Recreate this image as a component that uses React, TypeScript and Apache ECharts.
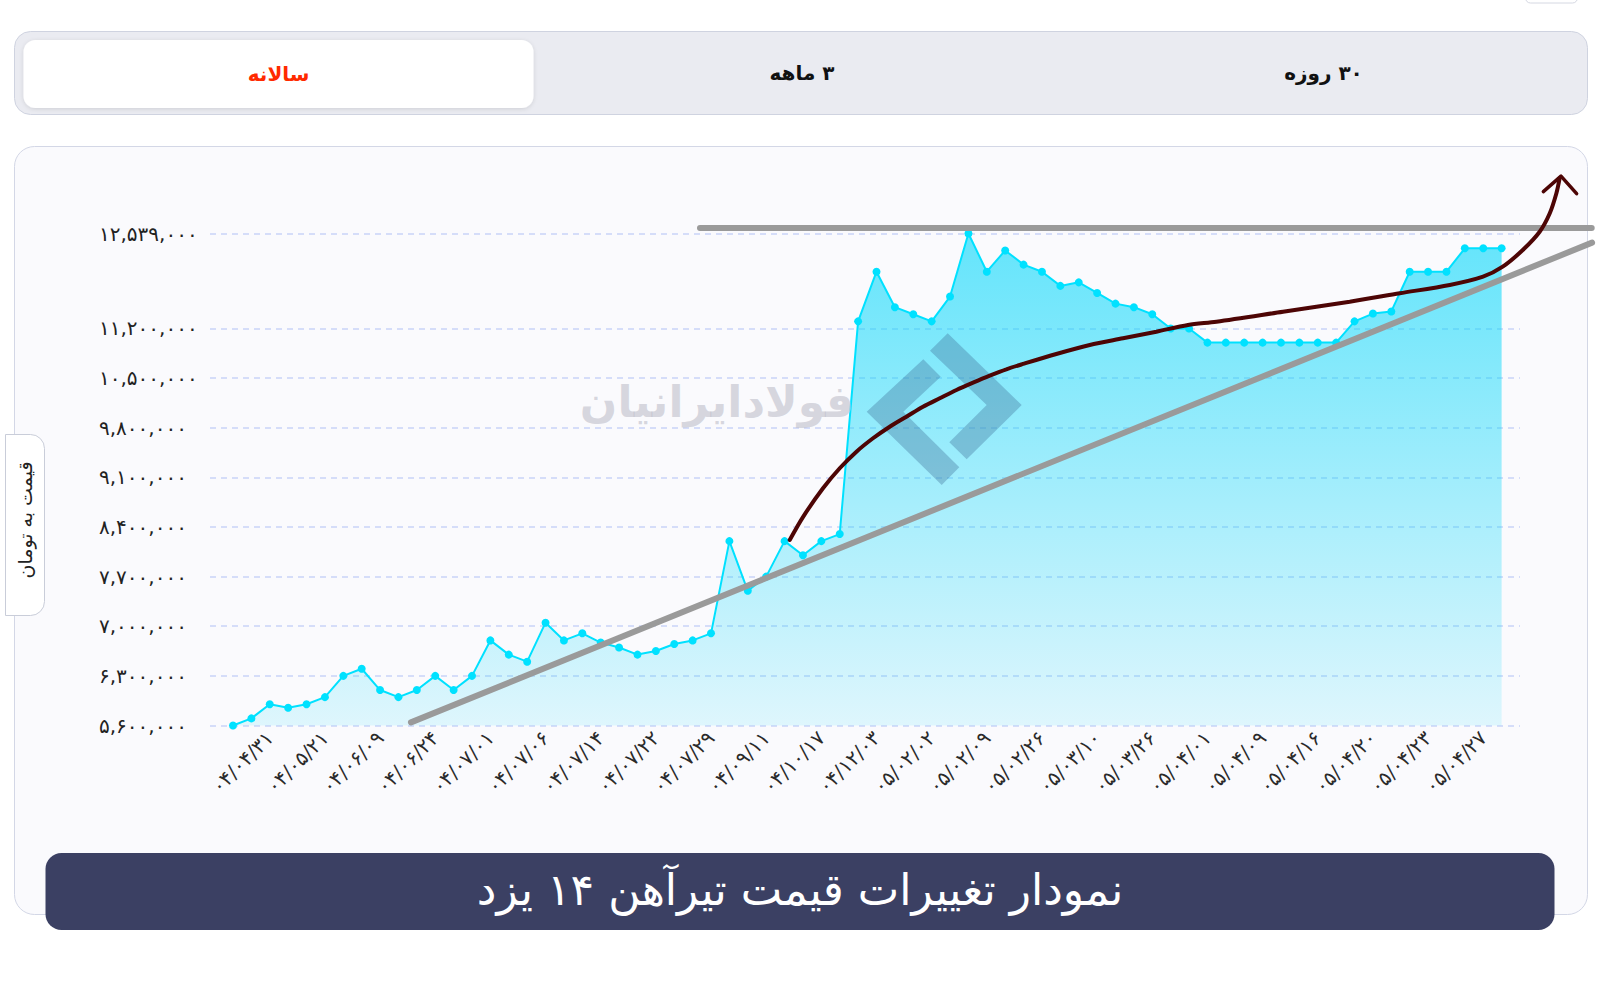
import React, { useEffect, useRef } from "react";
import * as echarts from "echarts";

// ---- data ----
const dateLabels = [
  "۰۴/۰۴/۳۱", "۰۴/۰۵/۲۱", "۰۴/۰۶/۰۹", "۰۴/۰۶/۲۴", "۰۴/۰۷/۰۱", "۰۴/۰۷/۰۶",
  "۰۴/۰۷/۱۴", "۰۴/۰۷/۲۲", "۰۴/۰۷/۲۹", "۰۴/۰۹/۱۱", "۰۴/۱۰/۱۷", "۰۴/۱۲/۰۳",
  "۰۵/۰۲/۰۲", "۰۵/۰۲/۰۹", "۰۵/۰۲/۲۶", "۰۵/۰۳/۱۰", "۰۵/۰۳/۲۶", "۰۵/۰۴/۰۱",
  "۰۵/۰۴/۰۹", "۰۵/۰۴/۱۶", "۰۵/۰۴/۲۰", "۰۵/۰۴/۲۳", "۰۵/۰۴/۲۷",
];
// point index at which each date label sits
const labelIndex = [2, 5, 8, 11, 14, 17, 20, 23, 26, 29, 32, 35, 38, 41, 44, 47, 50, 53, 56, 59, 62, 65, 68];

const prices = [
  5600000, 5700000, 5900000, 5850000, 5900000, 6000000, 6300000, 6400000, 6100000, 6000000,
  6100000, 6300000, 6100000, 6300000, 6800000, 6600000, 6500000, 7050000, 6800000, 6900000,
  6770000, 6700000, 6600000, 6650000, 6750000, 6800000, 6900000, 8200000, 7500000, 7700000,
  8200000, 8000000, 8200000, 8300000, 11300000, 12000000, 11500000, 11400000, 11300000, 11650000,
  12539000, 12000000, 12300000, 12100000, 12000000, 11800000, 11850000, 11700000, 11550000, 11500000,
  11400000, 11200000, 11200000, 11000000, 11000000, 11000000, 11000000, 11000000, 11000000, 11000000,
  11000000, 11300000, 11410000, 11440000, 12000000, 12000000, 12000000, 12330000, 12330000, 12330000,
];

const yTicks = [5600000, 6300000, 7000000, 7700000, 8400000, 9100000, 9800000, 10500000, 11200000, 12539000];

// hand-drawn annotations, in data coordinates [pointIndex, price]
const resistanceLine = [[25.4, 12617000], [73.9, 12617000]];
const trendLine = [[9.68, 5644000], [73.92, 12410000]];
const curveLine = [
  [30.28, 8216000], [31.0, 8540000], [32.09, 8945000], [33.0, 9228000],
  [33.91, 9462000], [34.81, 9651000], [35.72, 9814000], [36.63, 9955000], [37.53, 10096000],
  [38.44, 10215000], [39.35, 10332000], [40.25, 10435000], [41.16, 10534000], [42.06, 10624000],
  [42.97, 10699000], [44.78, 10840000], [46.6, 10967000], [48.41, 11061000], [50.22, 11154000],
  [51.94, 11249000], [53.49, 11295000], [57.11, 11436000], [60.74, 11577000], [63.46, 11696000],
  [66.18, 11813000], [67.99, 11930000], [69.06, 12071000], [70.15, 12306000], [71.07, 12564000],
  [71.62, 12824000], [71.98, 13106000], [72.16, 13322000],
];
const arrowHead = [[71.27, 13129000], [72.23, 13348000], [73.08, 13101000]];

const FA = "۰۱۲۳۴۵۶۷۸۹";
const toFa = (s: string) => s.replace(/\d/g, (d) => FA[Number(d)]);

const FONT = '"DejaVu Sans", "Noto Sans", sans-serif';

// layout of the plot
const W = 1600;
const GRID_LEFT = 210;
const GRID_RIGHT = 80;
const GRID_TOP = 233.5;
const GRID_BOTTOM = 257.5;
const X_MIN = -1.25;
const X_MAX = 70;
// an overlay grid with the same scale, wider, so hand-drawn marks may leave the plot
const OVER_TOP = 150;
const pxPerX = (W - GRID_LEFT - GRID_RIGHT) / (X_MAX - X_MIN);
const valPerPx = (yTicks[yTicks.length - 1] - yTicks[0]) / (983 - GRID_TOP - GRID_BOTTOM);
const X_MAX_OVER = X_MIN + (W - GRID_LEFT) / pxPerX;
const Y_MAX_OVER = yTicks[0] + (983 - OVER_TOP - GRID_BOTTOM) * valPerPx;

function txt(text: string, x: number, y: number, fill: string, font: string, z: number, extra: any = {}) {
  return {
    type: "text",
    x,
    y,
    z,
    silent: true,
    ...extra,
    style: {
      text,
      fill,
      font,
      align: "center",
      verticalAlign: "middle",
      textAlign: "center",
      textVerticalAlign: "middle",
    },
  };
}

export default function App() {
  const ref = useRef<HTMLDivElement>(null);

  useEffect(() => {
    if (!ref.current) return;
    const chart = echarts.init(ref.current, null, { renderer: "svg" });

    const logoFill = "rgba(60,110,150,0.35)";
    const hidden = { show: false };

    const option: any = {
      animation: false,
      backgroundColor: "#ffffff",
      grid: [
        { left: GRID_LEFT, right: GRID_RIGHT, top: GRID_TOP, bottom: GRID_BOTTOM, containLabel: false, outerBoundsMode: "none" },
        { left: GRID_LEFT, right: 0, top: OVER_TOP, bottom: GRID_BOTTOM, containLabel: false, outerBoundsMode: "none" },
      ],
      xAxis: [
        {
          type: "value",
          gridIndex: 0,
          min: X_MIN,
          max: X_MAX,
          axisLine: hidden,
          axisTick: hidden,
          splitLine: hidden,
          axisLabel: {
            customValues: labelIndex,
            formatter: (v: number) => {
              const k = labelIndex.indexOf(Math.round(v));
              return k >= 0 ? dateLabels[k] : "";
            },
            rotate: 45,
            margin: 9,
            color: "#2a2a2a",
            fontSize: 20,
            fontFamily: FONT,
          },
        },
        {
          type: "value", gridIndex: 1, min: X_MIN, max: X_MAX_OVER, show: false,
          axisLine: hidden, axisTick: hidden, splitLine: hidden, axisLabel: hidden,
        },
      ],
      yAxis: [
        {
          type: "value",
          gridIndex: 0,
          min: yTicks[0],
          max: yTicks[yTicks.length - 1],
          axisLine: hidden,
          axisTick: { show: false, customValues: yTicks },
          axisLabel: {
            customValues: yTicks,
            formatter: (v: number) => toFa(Math.round(v).toLocaleString("en-US")),
            align: "left",
            margin: 111,
            color: "#222222",
            fontSize: 20,
            fontFamily: FONT,
          },
          splitLine: { show: true, lineStyle: { type: [6, 5], color: "#c9d3f8", width: 1.5 } },
        },
        {
          type: "value", gridIndex: 1, min: yTicks[0], max: Y_MAX_OVER, show: false,
          axisLine: hidden, axisTick: hidden, splitLine: hidden, axisLabel: hidden,
        },
      ],
      graphic: [
        { type: "rect", silent: true, z: -10, shape: { x: 1525.5, y: -12, width: 52, height: 15, r: 5 }, style: { fill: "#ffffff", stroke: "#d5d8e2", lineWidth: 1 } },
        // tab bar
        { type: "rect", silent: true, z: -10, shape: { x: 14.5, y: 31.5, width: 1573, height: 83, r: 16 }, style: { fill: "#eaebf1", stroke: "#cfd3e0", lineWidth: 1 } },
        { type: "rect", silent: true, z: -9, shape: { x: 23.5, y: 40, width: 510, height: 68, r: 12 }, style: { fill: "#ffffff", shadowBlur: 4, shadowColor: "rgba(0,0,0,0.12)", shadowOffsetY: 1 } },
        txt("سالانه", 278.6, 73.5, "#ff2a00", `bold 20px ${FONT}`, -8),
        txt("\u200F۳ ماهه", 802, 73, "#111111", `bold 20px ${FONT}`, -8),
        txt("\u200F۳۰ روزه", 1323.5, 73, "#111111", `bold 20px ${FONT}`, -8),
        // chart card
        { type: "rect", silent: true, z: -10, shape: { x: 14.5, y: 146.5, width: 1573, height: 768, r: 20 }, style: { fill: "#fafafd", stroke: "#d3d7e6", lineWidth: 1 } },
        // y axis name pill
        { type: "rect", silent: true, z: -8, shape: { x: 5.5, y: 434.5, width: 39, height: 181, r: [0, 14, 14, 0] }, style: { fill: "#ffffff", stroke: "#c9cdd9", lineWidth: 1 } },
        txt("قیمت به تومان", 25, 520, "#222222", `19px ${FONT}`, -7, { rotation: Math.PI / 2 }),
        // watermark
        txt("فولادایرانیان", 717, 401, "rgba(190,190,202,0.6)", `bold 44px ${FONT}`, 3),
        {
          type: "polygon", silent: true, z: 3,
          shape: { points: [[947.7, 333.3], [1021.7, 405], [966.7, 459.3], [949.3, 442.3], [986.7, 405], [930, 350.7]] },
          style: { fill: logoFill },
        },
        {
          type: "polygon", silent: true, z: 3,
          shape: { points: [[923.3, 359.3], [866.7, 411.7], [941.7, 485], [959.3, 467.3], [903.3, 411.7], [940.7, 376.7]] },
          style: { fill: logoFill },
        },
        // title banner
        { type: "rect", silent: true, z: 20, shape: { x: 45.5, y: 853, width: 1509, height: 77, r: 16 }, style: { fill: "#3b4063" } },
        txt("نمودار تغییرات قیمت تیرآهن ۱۴ یزد", 800, 889, "#ffffff", `44px ${FONT}`, 21),
      ],
      series: [
        {
          type: "line",
          data: prices.map((v, i) => [i, v]),
          symbol: "circle",
          symbolSize: 8,
          showSymbol: true,
          itemStyle: { color: "#00e1ff" },
          lineStyle: { color: "#00e1ff", width: 2 },
          areaStyle: {
            color: new echarts.graphic.LinearGradient(0, 0, 0, 1, [
              { offset: 0, color: "rgba(0,214,250,0.86)" },
              { offset: 1, color: "rgba(0,214,250,0.16)" },
            ]),
          },
          z: 2,
          silent: true,
        },
        {
          type: "line", xAxisIndex: 1, yAxisIndex: 1, data: resistanceLine, symbol: "none", clip: false, silent: true, z: 5,
          lineStyle: { color: "#9a9a9a", width: 6, cap: "round" },
        },
        {
          type: "line", xAxisIndex: 1, yAxisIndex: 1, data: trendLine, symbol: "none", clip: false, silent: true, z: 5,
          lineStyle: { color: "#9a9a9a", width: 6, cap: "round" },
        },
        {
          type: "line", xAxisIndex: 1, yAxisIndex: 1, data: curveLine, symbol: "none", clip: false, silent: true, z: 6, smooth: 0.3,
          lineStyle: { color: "#4d0505", width: 4, cap: "round" },
        },
        {
          type: "line", xAxisIndex: 1, yAxisIndex: 1, data: arrowHead, symbol: "none", clip: false, silent: true, z: 6,
          lineStyle: { color: "#4d0505", width: 3.5, cap: "round", join: "round" },
        },
      ],
    };

    chart.setOption(option);
    return () => chart.dispose();
  }, []);

  return <div ref={ref} style={{ position: "absolute", left: 0, top: 0, width: 1600, height: 983 }} />;
}
